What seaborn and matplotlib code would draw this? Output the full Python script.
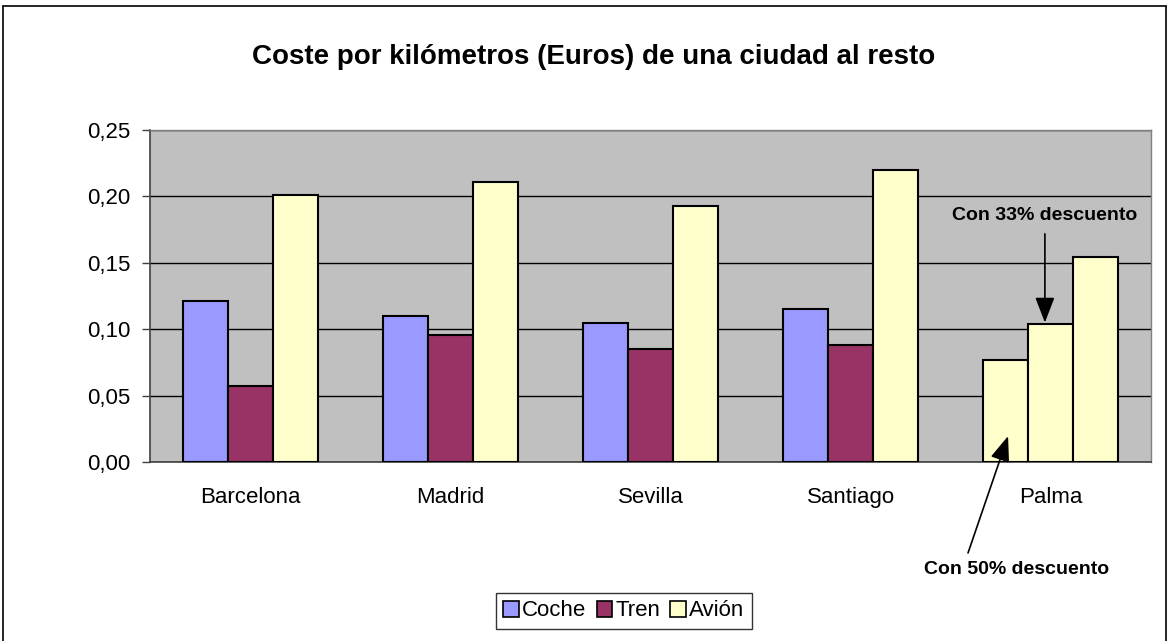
import matplotlib
matplotlib.use("Agg")
import matplotlib.pyplot as plt
import seaborn as sns
import pandas as pd
from matplotlib.patches import Patch
from matplotlib.lines import Line2D
from matplotlib.ticker import FuncFormatter, MultipleLocator

ciudades = ["Barcelona", "Madrid", "Sevilla", "Santiago", "Palma"]
series = ["Coche", "Tren", "Avión"]
coche = [0.121, 0.110, 0.105, 0.115]
tren = [0.057, 0.096, 0.085, 0.088]
avion = [0.201, 0.211, 0.193, 0.220]
palma_avion = [0.077, 0.104, 0.154]  # 50% dto, 33% dto, precio completo
colores = {"Coche": "#9999FF", "Tren": "#993366", "Avión": "#FFFFCC"}

rows = []
for i, c in enumerate(ciudades[:4]):
    rows.append((c, "Coche", coche[i]))
    rows.append((c, "Tren", tren[i]))
    rows.append((c, "Avión", avion[i]))
for s, v in zip(series, palma_avion):
    rows.append(("Palma", s, v))
df = pd.DataFrame(rows, columns=["ciudad", "serie", "valor"])

sns.set_style("white")
plt.rcParams["font.family"] = ["Liberation Sans", "DejaVu Sans"]
plt.rcParams["text.color"] = "black"
plt.rcParams["xtick.color"] = "black"
plt.rcParams["ytick.color"] = "black"

fig = plt.figure(figsize=(11.69, 6.41), dpi=100)
ax = fig.add_axes([150 / 1169, 1 - 462 / 641, 1001 / 1169, 332 / 641])
ax.set_facecolor("#C0C0C0")

sns.barplot(data=df, x="ciudad", y="valor", hue="serie", order=ciudades,
            hue_order=series, palette=colores, width=0.675, edgecolor="black",
            linewidth=1.5, saturation=1, ax=ax, legend=False, zorder=3)

# Palma: las tres barras son de avión
for cont in ax.containers:
    cont.patches[4].set_facecolor(colores["Avión"])

ax.set_ylim(0, 0.25)
ax.set_xlim(-0.5, 4.5)
ax.yaxis.set_major_locator(MultipleLocator(0.05))
ax.yaxis.set_major_formatter(FuncFormatter(lambda v, p: f"{v:.2f}".replace(".", ",")))
ax.grid(axis="y", color="black", linewidth=1, zorder=1)
ax.set_axisbelow(True)
ax.set_xlabel("")
ax.set_ylabel("")

# tick marks between categories
ax.set_xticks([i - 0.5 for i in range(6)], minor=False)
ax.set_xticklabels([])
ax.set_xticks(range(5), minor=True)
ax.set_xticklabels(ciudades, minor=True, fontsize=16)
ax.tick_params(axis="x", which="minor", length=0, pad=18)
ax.tick_params(axis="x", which="major", direction="out", length=6, width=1, color="#404040")
ax.tick_params(axis="y", direction="out", length=6, width=1, color="#404040",
               labelsize=16, pad=8, left=True)

for side in ["left", "bottom"]:
    ax.spines[side].set_color("#404040")
    ax.spines[side].set_linewidth(1.2)
for side in ["top", "right"]:
    ax.spines[side].set_color("#808080")
    ax.spines[side].set_linewidth(1.0)

fig.text(594 / 1169, 1 - 57 / 641, "Coste por kilómetros (Euros) de una ciudad al resto",
         ha="center", va="center", fontsize=20, fontweight="bold")

# annotations
ax.annotate("Con 33% descuento", xy=(3.97, palma_avion[1] + 0.001),
            xytext=(3.97, 0.1795), textcoords="data", ha="center", va="bottom",
            fontsize=14, fontweight="bold", annotation_clip=False,
            arrowprops=dict(arrowstyle="-|>,head_length=1.3,head_width=0.5",
                            mutation_scale=12, color="black", lw=1.2,
                            shrinkA=5, shrinkB=0))
ax.annotate("", xy=(3.786, 0.0195), xytext=(3.586, -0.0685),
            textcoords="data", annotation_clip=False,
            arrowprops=dict(arrowstyle="-|>,head_length=1.3,head_width=0.5",
                            mutation_scale=12, color="black", lw=1.2,
                            shrinkA=0, shrinkB=0))
fig.text(1017 / 1169, 1 - 570 / 641, "Con 50% descuento", ha="center", va="center",
         fontsize=14, fontweight="bold")

handles = [Patch(facecolor=colores[s], edgecolor="black", linewidth=1.2, label=s) for s in series]
leg = fig.legend(handles=handles, loc="center", bbox_to_anchor=(624 / 1169, 1 - 611 / 641),
                 ncol=3, fontsize=16, frameon=True, fancybox=False, edgecolor="black",
                 handlelength=0.7, handleheight=0.7, handletextpad=0.15,
                 columnspacing=0.45, borderpad=0.35)
leg.get_frame().set_linewidth(1.0)

# outer chart border
fig.add_artist(Line2D([3 / 1169, 3 / 1169], [0, 1 - 6 / 641], color="black", lw=1.2,
                      transform=fig.transFigure))
fig.add_artist(Line2D([3 / 1169, 1166 / 1169], [1 - 6 / 641, 1 - 6 / 641], color="black",
                      lw=1.2, transform=fig.transFigure))
fig.add_artist(Line2D([1166 / 1169, 1166 / 1169], [0, 1 - 6 / 641], color="black", lw=1.2,
                      transform=fig.transFigure))

fig.savefig("out.png", dpi=100)
